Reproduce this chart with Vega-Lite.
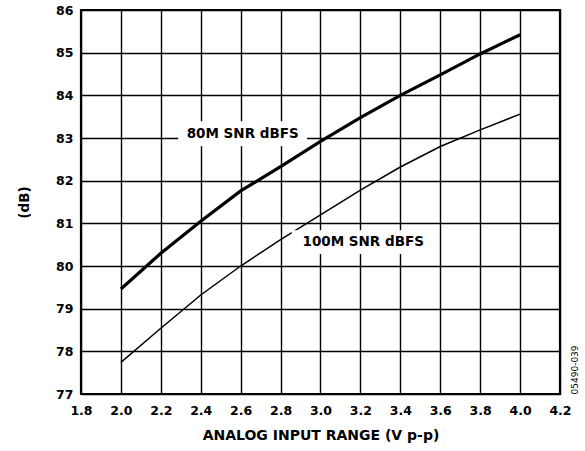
{
  "$schema": "https://vega.github.io/schema/vega-lite/v6.json",
  "width": 479,
  "height": 384,
  "autosize": "none",
  "padding": {"left": 81, "top": 10, "right": 25, "bottom": 57},
  "background": "white",
  "config": {
    "font": "DejaVu Sans",
    "view": {"stroke": "black", "strokeWidth": 2.2},
    "axis": {
      "labelFont": "DejaVu Sans",
      "labelFontWeight": "bold",
      "labelFontSize": 12.5,
      "labelColor": "black",
      "labelOverlap": false,
      "labelFlush": false,
      "titleFont": "DejaVu Sans",
      "titleFontWeight": "bold",
      "titleColor": "black",
      "gridColor": "black",
      "gridOpacity": 1,
      "gridWidth": 1.4,
      "ticks": false,
      "domain": false,
      "tickCount": 30
    }
  },
  "datasets": {
    "curves": [
      {"vpp": 2.0, "snr": 79.46, "series": "80M"},
      {"vpp": 2.2, "snr": 80.30, "series": "80M"},
      {"vpp": 2.4, "snr": 81.05, "series": "80M"},
      {"vpp": 2.6, "snr": 81.76, "series": "80M"},
      {"vpp": 2.8, "snr": 82.33, "series": "80M"},
      {"vpp": 3.0, "snr": 82.92, "series": "80M"},
      {"vpp": 3.2, "snr": 83.48, "series": "80M"},
      {"vpp": 3.4, "snr": 84.00, "series": "80M"},
      {"vpp": 3.6, "snr": 84.48, "series": "80M"},
      {"vpp": 3.8, "snr": 84.97, "series": "80M"},
      {"vpp": 4.0, "snr": 85.42, "series": "80M"},
      {"vpp": 2.0, "snr": 77.74, "series": "100M"},
      {"vpp": 2.2, "snr": 78.54, "series": "100M"},
      {"vpp": 2.4, "snr": 79.32, "series": "100M"},
      {"vpp": 2.6, "snr": 80.00, "series": "100M"},
      {"vpp": 2.8, "snr": 80.62, "series": "100M"},
      {"vpp": 3.0, "snr": 81.20, "series": "100M"},
      {"vpp": 3.2, "snr": 81.78, "series": "100M"},
      {"vpp": 3.4, "snr": 82.32, "series": "100M"},
      {"vpp": 3.6, "snr": 82.80, "series": "100M"},
      {"vpp": 3.8, "snr": 83.19, "series": "100M"},
      {"vpp": 4.0, "snr": 83.56, "series": "100M"}
    ],
    "labels": [
      {"label": "80M SNR dBFS", "vpp": 2.61, "snr": 83.1, "series": "80M"},
      {"label": "100M SNR dBFS", "vpp": 3.214, "snr": 80.56, "series": "100M"}
    ]
  },
  "resolve": {"axis": {"y": "independent"}},
  "layer": [
    {
      "data": {"name": "curves"},
      "mark": {"type": "line", "color": "black", "clip": true},
      "encoding": {
        "x": {
          "field": "vpp", "type": "quantitative",
          "scale": {"domain": [1.8, 4.2], "nice": false, "zero": false},
          "axis": {
            "values": [1.8, 2.0, 2.2, 2.4, 2.6, 2.8, 3.0, 3.2, 3.4, 3.6, 3.8, 4.0, 4.2],
            "tickCount": 30,
            "format": ".1f",
            "grid": true,
            "title": "ANALOG INPUT RANGE (V p-p)",
            "titleFontSize": 14,
            "labelPadding": 10,
            "titlePadding": 12
          }
        },
        "y": {
          "field": "snr", "type": "quantitative",
          "scale": {"domain": [77, 86], "nice": false, "zero": false},
          "axis": {
            "values": [77, 78, 79, 80, 81, 82, 83, 84, 85, 86],
            "tickCount": 30,
            "format": ".0f",
            "grid": true,
            "title": "(dB)",
            "titleFontSize": 13.5,
            "labelPadding": 8,
            "titlePadding": 24
          }
        },
        "detail": {"field": "series"},
        "strokeWidth": {
          "field": "series", "type": "nominal",
          "scale": {"domain": ["80M", "100M"], "range": [3.2, 1.5]},
          "legend": null
        }
      }
    },
    {
      "data": {"name": "labels"},
      "transform": [{"filter": "datum.series === '80M'"}],
      "mark": {"type": "point", "filled": true, "color": "white", "opacity": 1, "size": 16641, "shape": "M-1,-0.194L1,-0.194L1,0.194L-1,0.194Z"},
      "encoding": {
        "x": {
          "field": "vpp", "type": "quantitative",
          "scale": {"domain": [1.8, 4.2], "nice": false, "zero": false},
          "axis": {
            "values": [1.8, 2.0, 2.2, 2.4, 2.6, 2.8, 3.0, 3.2, 3.4, 3.6, 3.8, 4.0, 4.2],
            "tickCount": 30,
            "format": ".1f",
            "grid": true,
            "title": "ANALOG INPUT RANGE (V p-p)",
            "titleFontSize": 14,
            "labelPadding": 10,
            "titlePadding": 12
          }
        },
        "y": {"field": "snr", "type": "quantitative", "scale": {"domain": [77, 86], "nice": false, "zero": false}, "axis": null}
      }
    },
    {
      "data": {"name": "labels"},
      "transform": [{"filter": "datum.series === '100M'"}],
      "mark": {"type": "point", "filled": true, "color": "white", "opacity": 1, "size": 20449, "shape": "M-1,-0.165L1,-0.165L1,0.165L-1,0.165Z"},
      "encoding": {
        "x": {
          "field": "vpp", "type": "quantitative",
          "scale": {"domain": [1.8, 4.2], "nice": false, "zero": false},
          "axis": {
            "values": [1.8, 2.0, 2.2, 2.4, 2.6, 2.8, 3.0, 3.2, 3.4, 3.6, 3.8, 4.0, 4.2],
            "tickCount": 30,
            "format": ".1f",
            "grid": true,
            "title": "ANALOG INPUT RANGE (V p-p)",
            "titleFontSize": 14,
            "labelPadding": 10,
            "titlePadding": 12
          }
        },
        "y": {"field": "snr", "type": "quantitative", "scale": {"domain": [77, 86], "nice": false, "zero": false}, "axis": null}
      }
    },
    {
      "data": {"name": "labels"},
      "mark": {"type": "text", "font": "DejaVu Sans", "fontWeight": "bold", "fontSize": 13.5, "color": "black", "align": "center", "baseline": "middle"},
      "encoding": {
        "x": {
          "field": "vpp", "type": "quantitative",
          "scale": {"domain": [1.8, 4.2], "nice": false, "zero": false},
          "axis": {
            "values": [1.8, 2.0, 2.2, 2.4, 2.6, 2.8, 3.0, 3.2, 3.4, 3.6, 3.8, 4.0, 4.2],
            "tickCount": 30,
            "format": ".1f",
            "grid": true,
            "title": "ANALOG INPUT RANGE (V p-p)",
            "titleFontSize": 14,
            "labelPadding": 10,
            "titlePadding": 12
          }
        },
        "y": {
          "field": "snr", "type": "quantitative",
          "scale": {"domain": [77, 86], "nice": false, "zero": false},
          "axis": {
            "orient": "right",
            "title": "05490-039",
            "labels": false,
            "grid": false,
            "ticks": false,
            "domain": false,
            "titleFont": "DejaVu Sans",
            "titleFontWeight": "normal",
            "titleFontSize": 9,
            "titleAngle": 270,
            "titleAnchor": "start",
            "titleAlign": "left",
            "titleBaseline": "middle",
            "titlePadding": 14
          }
        },
        "text": {"field": "label"}
      }
    }
  ]
}
